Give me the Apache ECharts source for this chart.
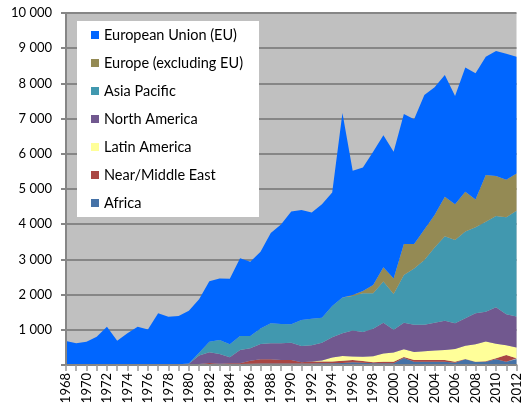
<!DOCTYPE html>
<html>
<head>
<meta charset="utf-8">
<script src="https://cdn.jsdelivr.net/npm/echarts@6/dist/echarts.min.js"></script>
<style>
  html, body { margin: 0; padding: 0; background: #fff; }
  #main { width: 523px; height: 408px; }
</style>
</head>
<body>
<div id="main"></div>
<script>
// years on the x axis, 1968..2012
var years = ['1968','1969','1970','1971','1972','1973','1974','1975','1976','1977',
  '1978','1979','1980','1981','1982','1983','1984','1985','1986','1987',
  '1988','1989','1990','1991','1992','1993','1994','1995','1996','1997',
  '1998','1999','2000','2001','2002','2003','2004','2005','2006','2007',
  '2008','2009','2010','2011','2012'];

var africa = [0,0,0,0,0,0,0,0,0,0,
  0,0,15,20,25,25,30,30,35,40,
  40,40,45,40,45,50,50,60,75,65,
  48,48,48,200,95,95,95,95,65,160,
  85,90,160,95,160];

var nearMiddleEast = [0,0,0,0,0,0,0,0,0,0,
  10,20,15,10,35,10,20,20,85,120,
  120,100,95,40,55,50,50,60,65,50,
  27,47,47,25,45,45,45,45,30,10,
  10,15,30,190,30];

var latinAmerica = [0,0,0,0,0,0,0,0,0,0,
  0,0,0,0,0,0,0,0,0,0,
  0,0,0,0,0,30,110,135,100,121,
  175,235,260,225,230,250,275,285,360,380,
  495,560,415,275,305];

var northAmerica = [0,0,0,0,0,0,0,0,0,0,
  0,0,5,240,300,275,170,375,355,435,
  455,475,495,460,460,505,575,645,740,704,
  780,870,645,750,770,755,785,830,730,775,
  880,845,1035,880,885];

var asiaPacific = [0,0,0,0,0,0,0,0,0,0,
  0,0,5,80,300,400,370,400,350,445,
  570,550,520,740,755,710,890,1020,980,1095,
  1005,1170,1015,1360,1605,1835,2140,2405,2365,2465,
  2440,2560,2590,2760,3000];

var europeExEU = [0,0,0,0,0,0,0,0,0,0,
  0,0,0,0,0,0,0,0,0,0,
  0,0,0,0,0,0,0,0,30,65,
  235,405,445,880,695,870,920,1120,1020,1130,
  790,1330,1140,1060,1060];

var europeanUnion = [680,615,660,805,1090,690,900,1090,1010,1470,
  1360,1370,1500,1520,1720,1750,1860,2205,2105,2180,
  2565,2825,3205,3120,3015,3225,3225,5240,3530,3510,
  3790,3755,3600,3690,3540,3820,3630,3460,3070,3530,
  3590,3360,3550,3580,3320];

var yTicks = [0, 1000, 2000, 3000, 4000, 5000, 6000, 7000, 8000, 9000, 10000];

var font = 'Lato, "Open Sans", sans-serif';
var axisGrey = '#868686';

function fmt(v) {
  if (v === 0) return '';
  return String(v).replace(/\B(?=(\d{3})+(?!\d))/g, ' ');
}

// stacked bottom to top
var layers = [
  { name: 'Africa', data: africa, color: '#4572A7' },
  { name: 'Near/Middle East', data: nearMiddleEast, color: '#AA4643' },
  { name: 'Latin America', data: latinAmerica, color: '#FFFF99' },
  { name: 'North America', data: northAmerica, color: '#71588F' },
  { name: 'Asia Pacific', data: asiaPacific, color: '#4198AF' },
  { name: 'Europe (excluding EU)', data: europeExEU, color: '#948A54' },
  { name: 'European Union (EU)', data: europeanUnion, color: '#0066FF' }
];

var myChart = echarts.init(document.getElementById('main'));
myChart.setOption({
  animation: false,
  textStyle: { fontFamily: font },
  grid: {
    left: 66, right: 0, top: 13, bottom: 43,
    show: true, backgroundColor: '#C0C0C0', borderWidth: 0
  },
  legend: {
    orient: 'vertical',
    left: 77, top: 21,
    padding: [6, 16, 6, 14],
    itemGap: 12,
    itemWidth: 8, itemHeight: 8,
    icon: 'rect',
    backgroundColor: '#ffffff',
    textStyle: { fontFamily: font, fontSize: 14.5, lineHeight: 16, color: '#000' },
    data: layers.map(function (l) { return l.name; }).reverse()
  },
  xAxis: {
    type: 'category',
    data: years,
    boundaryGap: false,
    z: 10,
    axisLine: { lineStyle: { color: axisGrey, width: 2 } },
    axisTick: { show: true, interval: 0, length: 6, lineStyle: { color: '#9a9a9a', width: 1.5 } },
    axisLabel: { interval: 1, rotate: 90, margin: 8, fontSize: 13, color: '#000', fontFamily: font },
    splitLine: { show: false }
  },
  yAxis: [{
    // gridlines and labels, under the areas
    type: 'value',
    min: yTicks[0], max: yTicks[yTicks.length - 1], interval: 1000,
    axisLine: { show: false },
    axisTick: { show: true, length: 5, lineStyle: { color: axisGrey, width: 2 } },
    axisLabel: { margin: 14, fontSize: 13, color: '#000', fontFamily: font, formatter: fmt },
    splitLine: { show: true, lineStyle: { color: axisGrey, width: 2 } }
  }, {
    // axis line drawn above the areas
    type: 'value',
    position: 'left',
    min: yTicks[0], max: yTicks[yTicks.length - 1], interval: 1000,
    z: 10,
    axisLine: { show: true, lineStyle: { color: axisGrey, width: 2 } },
    axisTick: { show: false },
    axisLabel: { show: false },
    splitLine: { show: false }
  }],
  series: layers.map(function (l) {
    return {
      name: l.name,
      type: 'line',
      stack: 'total',
      data: l.data,
      symbol: 'none',
      color: l.color,
      lineStyle: { width: 0 },
      areaStyle: { color: l.color, opacity: 1 }
    };
  })
});
</script>
</body>
</html>
